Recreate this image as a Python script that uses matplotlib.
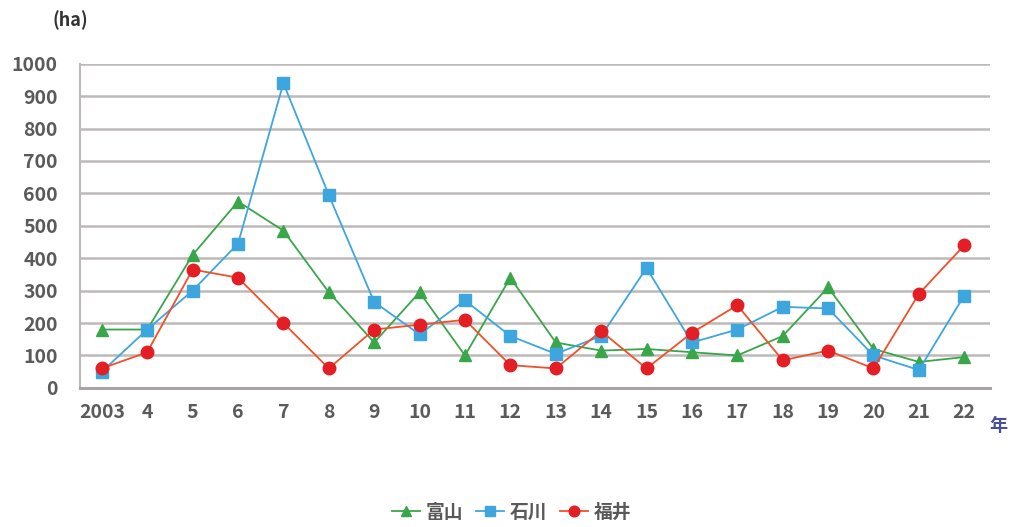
import matplotlib
matplotlib.use("Agg")
import matplotlib.pyplot as plt

plt.rcParams['font.family'] = ['Noto Sans CJK JP', 'DejaVu Sans']

years = ["2003", "4", "5", "6", "7", "8", "9", "10", "11", "12", "13",
         "14", "15", "16", "17", "18", "19", "20", "21", "22"]
toyama = [180, 180, 410, 575, 485, 295, 140, 295, 100, 340, 140,
          115, 120, 110, 100, 160, 310, 120, 80, 95]
ishikawa = [50, 180, 300, 445, 940, 595, 265, 165, 270, 160, 105,
            160, 370, 140, 180, 250, 245, 100, 55, 285]
fukui = [60, 110, 365, 340, 200, 60, 180, 195, 210, 70, 60,
         175, 60, 170, 255, 85, 115, 60, 290, 440]
yticks = list(range(0, 1001, 100))

fig = plt.figure(figsize=(10.13, 5.27), dpi=100)
ax = fig.add_axes([0.079, 0.264, 0.898, 0.615])

x = list(range(len(years)))
ax.plot(x, toyama, color='#3aa64a', lw=1.3, marker='^', ms=8, label='富山', zorder=3)
ax.plot(x, ishikawa, color='#3ea6de', lw=1.3, marker='s', ms=8, label='石川', zorder=4)
ax.plot(x, fukui, color='#f0502a', lw=1.3, marker='o', ms=9,
        markerfacecolor='#e31e24', markeredgecolor='#e31e24', label='福井', zorder=5)

ax.set_xlim(-0.48, 19.56)
ax.set_ylim(0, 1000)
ax.set_yticks(yticks)
ax.set_xticks(x)
ax.set_xticklabels(years)
ax.grid(axis='y', color='#bdb9b9', lw=1.8)
ax.set_axisbelow(True)
for s in ['top', 'right']:
    ax.spines[s].set_visible(False)
ax.spines['left'].set_color('#bdb9b9')
ax.spines['left'].set_linewidth(1.5)
ax.spines['bottom'].set_color('#a8a4a4')
ax.spines['bottom'].set_linewidth(2.2)
ax.tick_params(axis='both', length=0, labelsize=14, labelcolor='#5a5a5a')
ax.tick_params(axis='y', pad=16)
ax.tick_params(axis='x', pad=11)
for lab in ax.get_xticklabels() + ax.get_yticklabels():
    lab.set_fontweight('bold')

fig.text(0.069, 0.962, '(ha)', ha='center', va='center', fontsize=13,
         fontweight='bold', color='#333333')
fig.text(0.985, 0.193, '年', ha='center', va='center', fontsize=13,
         color='#4b4f9a', fontweight='bold')

leg = fig.legend(loc='center', bbox_to_anchor=(0.505, 0.028), ncol=3, frameon=False,
                 fontsize=13.5, handlelength=1.5, columnspacing=0.7, handletextpad=0.3,
                 markerscale=0.85)
for t in leg.get_texts():
    t.set_color('#595959')
    t.set_fontweight('bold')

fig.savefig('out.png', dpi=100)
